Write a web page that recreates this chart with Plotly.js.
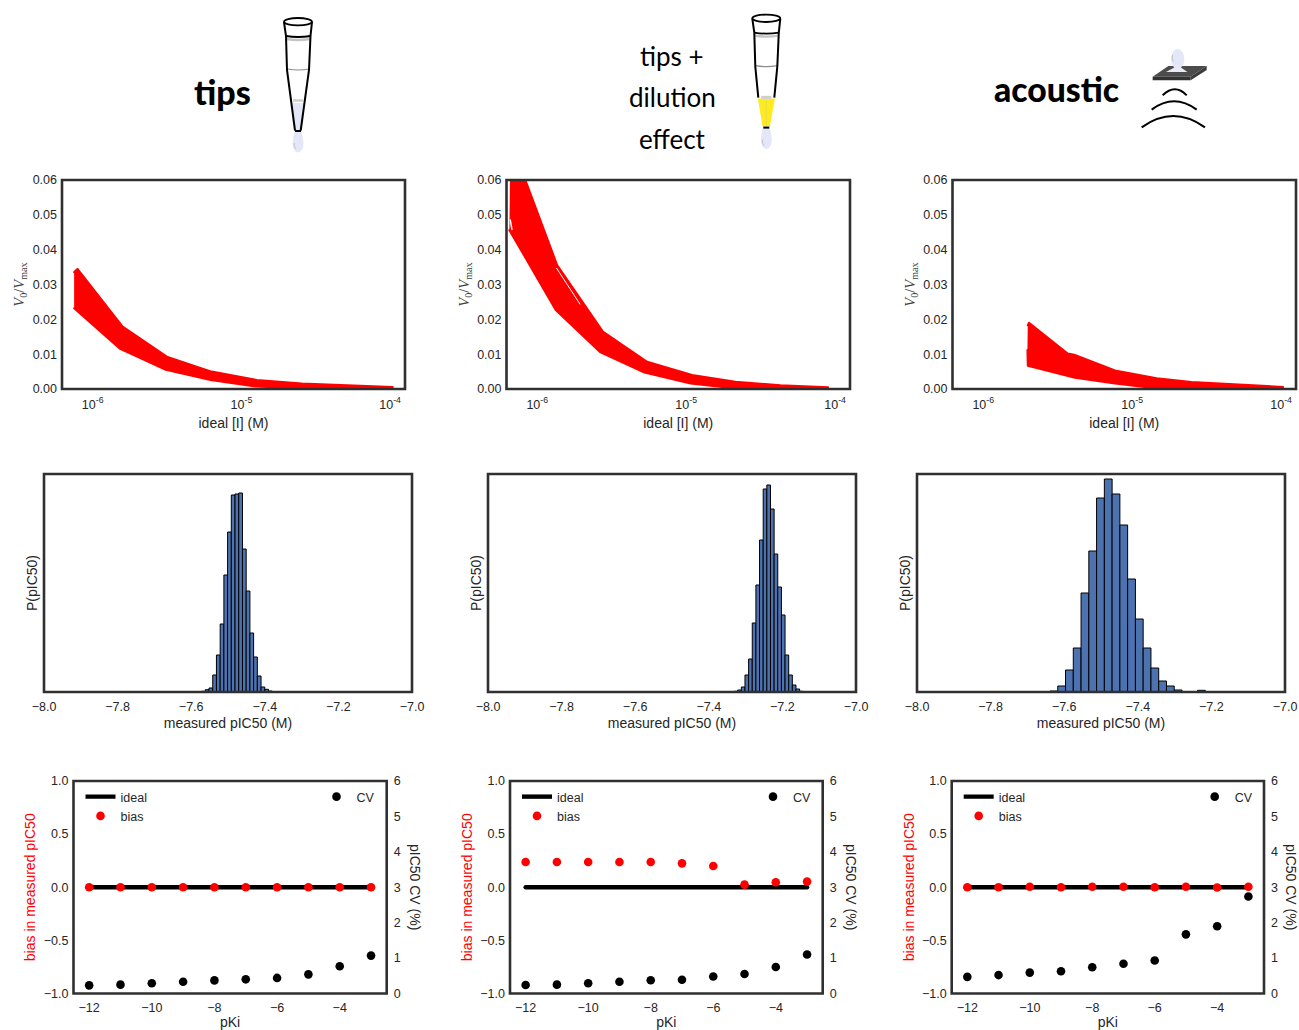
<!DOCTYPE html>
<html><head><meta charset="utf-8">
<script src="https://cdn.plot.ly/plotly-3.0.1.min.js"></script>
<style>html,body{margin:0;padding:0;background:#fff}
.scatterlayer .js-line{stroke-linecap:round;stroke-linejoin:round}</style>
</head><body><div id="chart" style="width:1299px;height:1030px"></div>
<script>
// --- Row 1: dose-response envelopes (V0/Vmax against ideal [I])
const tipsUpperConc=[7.5e-7,7.9e-7,1.59e-6,3.15e-6,6.3e-6,1.27e-5,2.55e-5,5.1e-5,1.04e-4];
const tipsUpperV=[0.0335,0.0345,0.0179,0.0093,0.0050,0.0026,0.0016,0.0011,0.0006];
const tipsLowerConc=[7.5e-7,1.53e-6,3.1e-6,6.2e-6,1.24e-5,2.5e-5,1.04e-4];
const tipsLowerV=[0.0232,0.0115,0.0055,0.0026,0.0007,0.0002,0.0001];
const dilUpperConc=[6.6e-7,1.36e-6,2.76e-6,5.47e-6,1.096e-5,2.14e-5,4.3e-5,8.97e-5];
const dilUpperV=[0.0715,0.0356,0.01646,0.0078,0.0040,0.0021,0.0011,0.0005];
const dilLowerConc=[6.5e-7,1.33e-6,2.66e-6,5.25e-6,1.07e-5,2.09e-5,8.97e-5];
const dilLowerV=[0.0456,0.0227,0.0105,0.0047,0.0016,0.0002,0.0001];
const dilGapConc=[1.35e-6,1.934e-6];
const dilGapV=[0.03464,0.0244];
const dilNotchConc=[6.59e-7,6.76e-7];
const dilNotchV=[0.0485,0.0458];
const acUpperConc=[1.99e-6,2.03e-6,3.69e-6,4.08e-6,7.67e-6,1.46e-5,2.5e-5,5.04e-5,1.03e-4];
const acUpperV=[0.0183,0.0190,0.0102,0.00986,0.0053,0.0031,0.0020,0.0013,0.0006];
const acLowerConc=[1.98e-6,1.99e-6,4.13e-6,7.67e-6,1.43e-5,1.03e-4];
const acLowerV=[0.0112,0.0067,0.00325,0.0016,0.0002,0.0001];
const concTicks=[1e-6,1e-5,1e-4];
const concTickText=['10<sup>-6</sup>','10<sup>-5</sup>','10<sup>-4</sup>'];
// --- Row 2: histograms of measured pIC50 (relative heights)
const tipsHist=[0.7,2.3,4,17,37,68,117,160,197,198,199,143,101,59,35,16,5,2.7,1];
const dilHist=[0.7,2,5,17,33,69,107,152,203,207,183,138,105,77,37,17,7,3,0.7];
const acHist=[1,6,22,44,99,141,194,213,198,167,113,73,44,24,11,6,2,0.5,0.3,1.7];
// --- Row 3: bias and CV against pKi
const pKi=[-12,-11,-10,-9,-8,-7,-6,-5,-4,-3];
const idealBias=[0,0,0,0,0,0,0,0,0,0];
const tipsBias=[0,0,0,0,0,0,0,0,0,0];
const tipsCV=[0.23,0.25,0.29,0.33,0.37,0.40,0.44,0.54,0.77,1.07];
const dilBias=[0.2375,0.2375,0.2375,0.2375,0.2375,0.225,0.2,0.025,0.047,0.053];
const dilCV=[0.24,0.25,0.29,0.33,0.375,0.39,0.48,0.55,0.75,1.1];
const acBias=[0,0,0.005,0,0.005,0.005,0,0.005,-0.003,0.005];
const acCV=[0.47,0.52,0.59,0.63,0.74,0.84,0.93,1.67,1.9,2.74];
const xTicksRow2=[-8,-7.8,-7.6,-7.4,-7.2,-7];

const W=1299,H=1030,INK='#262626',SPINE='#303030',FONT='"Liberation Sans",Arial,sans-serif';
const fx=p=>p/W, fy=p=>1-p/H;
const domX=(a,b)=>[fx(a),fx(b)];
const domY=(bottom,top)=>[fy(bottom),fy(top)];
const base={showgrid:false,zeroline:false,showline:false,ticks:'',ticklabelstandoff:4,tickfont:{family:FONT,size:12.5,color:INK}};
const ttl=(text,standoff,color)=>({text,standoff,font:{family:FONT,size:14,color:color||INK}});
const layout={width:W,height:H,margin:{l:0,r:0,t:0,b:0,pad:0},paper_bgcolor:'#fff',plot_bgcolor:'#fff',bargap:0,barmode:'overlay',hovermode:false,showlegend:true,shapes:[],annotations:[]};
const traces=[];
const spine=(sx)=>layout.shapes.push({type:'rect',xref:'x'+sx+' domain',yref:'y'+sx+' domain',x0:0,x1:1,y0:0,y1:1,line:{color:SPINE,width:2.6},fillcolor:'rgba(0,0,0,0)',layer:'above'});

const row1=[[tipsUpperConc,tipsUpperV,tipsLowerConc,tipsLowerV,62,405],[dilUpperConc,dilUpperV,dilLowerConc,dilLowerV,506.5,850],[acUpperConc,acUpperV,acLowerConc,acLowerV,952.5,1296]];
row1.forEach((r,i)=>{
  const n=i+1, sx=n==1?'':n, ln='axis'+sx;
  layout['x'+ln]={...base,type:'log',range:[-6.2065,-3.9],tickvals:concTicks,ticktext:concTickText,ticklabelstandoff:6,domain:domX(r[4],r[5]),anchor:'y'+sx,title:ttl('ideal [I] (M)',7)};
  layout['y'+ln]={...base,ticklabelstandoff:4,range:[0,0.06],dtick:0.01,tickformat:'.2f',domain:domY(389,180),anchor:'x'+sx,
    title:{text:'<i>V</i><sub>0</sub>/<i>V</i><sub>max</sub>',standoff:4,font:{family:'"Liberation Serif",serif',size:14.5,color:'#3a3a3a'}}};
  traces.push({type:'scatter',mode:'lines',x:r[0].concat(r[2].slice().reverse()),y:r[1].concat(r[3].slice().reverse()),fill:'toself',fillcolor:'#ff0000',line:{color:'#ff0000',width:2},xaxis:'x'+sx,yaxis:'y'+sx,showlegend:false});
  spine(sx);
});
[[dilGapConc,dilGapV,1],[dilNotchConc,dilNotchV,1.5]].forEach(g=>traces.push({type:'scatter',mode:'lines',x:g[0],y:g[1],line:{color:'#fff',width:g[2]},xaxis:'x2',yaxis:'y2',showlegend:false}));

const row2=[[tipsHist,-7.5617-0.0101,0.0101,44,412],[dilHist,-7.3215-0.0099,0.0099,488,856],[acHist,-7.6386,0.0211,917,1285]];
row2.forEach((r,i)=>{
  const n=i+4;
  layout['xaxis'+n]={...base,ticklabelstandoff:5,range:[-8,-7],tickvals:xTicksRow2,tickformat:'.1f',domain:domX(r[3],r[4]),anchor:'y'+n,title:ttl('measured pIC50 (M)',5)};
  layout['yaxis'+n]={...base,range:[0,218],showticklabels:false,domain:domY(692,474),anchor:'x'+n,title:ttl('P(pIC50)',2)};
  traces.push({type:'bar',x0:r[1]+r[2]/2,dx:r[2],y:r[0],marker:{color:'#4c72b0',line:{color:'#000',width:1}},xaxis:'x'+n,yaxis:'y'+n,showlegend:false});
  spine(n);
});

const row3=[[tipsBias,tipsCV,73.5,386.7,415],[dilBias,dilCV,510,822.7,851],[acBias,acCV,951.7,1264,1291]];
row3.forEach((r,i)=>{
  const n=i+7, r2=i+10, L=i==0?'legend':'legend'+(2*i+1), R='legend'+(2*i+2);
  layout['xaxis'+n]={...base,ticklabelstandoff:5,range:[-12.5,-2.5],tick0:-12,dtick:2,domain:domX(r[2],r[3]),anchor:'y'+n,title:ttl('pKi',6)};
  layout['yaxis'+n]={...base,ticklabelstandoff:4,range:[-1,1],dtick:0.5,tickformat:'.1f',domain:domY(993.5,781),anchor:'x'+n,title:ttl('bias in measured pIC50',4,'#ff0000')};
  layout['yaxis'+r2]={...base,ticklabelstandoff:6,range:[0,6],dtick:1,side:'right',overlaying:'y'+n,anchor:'x'+n};
  layout.annotations.push({xref:'paper',yref:'paper',x:fx(r[4]),y:fy(887),xanchor:'center',yanchor:'middle',textangle:90,showarrow:false,text:'pIC50 CV (%)',font:{family:FONT,size:14,color:INK}});
  traces.push({type:'scatter',mode:'lines',name:'ideal',x:pKi,y:idealBias,line:{color:'#000',width:4.4},xaxis:'x'+n,yaxis:'y'+n,legend:L});
  traces.push({type:'scatter',mode:'markers',name:'bias',x:pKi,y:r[0],marker:{color:'#ff0000',size:8.6},xaxis:'x'+n,yaxis:'y'+n,legend:L});
  traces.push({type:'scatter',mode:'markers',name:'CV',x:pKi,y:r[1],marker:{color:'#000',size:8.6},xaxis:'x'+n,yaxis:'y'+r2,legend:R});
  const lg={bgcolor:'rgba(0,0,0,0)',borderwidth:0,xanchor:'left',yanchor:'top',itemwidth:30,font:{family:FONT,size:12.5,color:INK}};
  layout[L]={...lg,x:fx(r[2]+7),y:fy(782)};
  layout[R]={...lg,x:fx(r[2]+243),y:fy(782)};
  spine(n);
});

// --- Headings
const head=(text,cx,cy,size,weight)=>layout.annotations.push({xref:'paper',yref:'paper',x:fx(cx),y:fy(cy),xanchor:'center',yanchor:'middle',showarrow:false,text,font:{family:'Lato,sans-serif',size,weight,color:'#000'}});
head('tips',222,91,34,900);
head('tips +',672,56,26,400);
head('dilution',672,97,26,400);
head('effect',672,139,26,400);
head('acoustic',1056,89,33.7,900);

// --- Pipette tip and acoustic icons (decoration, in page pixels)
const pt=(x,y)=>fx(x)+','+fy(y);
const poly=(pts,close)=>'M'+pts.map(p=>pt(p[0],p[1])).join(' L')+(close?' Z':'');
const quad=(a,c,b)=>'M'+pt(a[0],a[1])+' Q'+pt(c[0],c[1])+' '+pt(b[0],b[1]);
const add=(path,o)=>layout.shapes.push({type:'path',xref:'paper',yref:'paper',path,line:{color:o.lc||'rgba(0,0,0,0)',width:o.lw||0},fillcolor:o.fc||'rgba(0,0,0,0)',layer:'above'});
const oval=(cx,cy,rx,ry,o)=>layout.shapes.push({type:'circle',xref:'paper',yref:'paper',x0:fx(cx-rx),x1:fx(cx+rx),y0:fy(cy+ry),y1:fy(cy-ry),line:{color:o.lc||'rgba(0,0,0,0)',width:o.lw||0},fillcolor:o.fc||'rgba(0,0,0,0)',layer:'above'});
function tip(dx,dy,yellow){
  const q=(x,y)=>[dx+x,dy+y];
  const LAV='#e3e7f8';
  add(poly([q(292.5,103),q(303,103),q(300.5,131),q(295,131)],true),{fc:LAV});
  oval(dx+298,dy+143,5.5,9.5,{fc:LAV});
  add(poly([q(294.5,131),q(301,131),q(303,138),q(293,138)],true),{fc:LAV});
  add(quad(q(294.5,143),q(293,146),q(296,149)),{lc:'#b9b9b9',lw:0.8});
  add(quad(q(286.5,39),q(298,41),q(310,39)),{lc:'#c4c4c4',lw:2.4});
  add(quad(q(287.5,69),q(298,71),q(309,69)),{lc:'#8c8c8c',lw:1.2});
  add(poly([q(293,100.5),q(303,100.5)]),{lc:'#cfcfcf',lw:2.5});
  if(yellow){
    add(poly([q(289.6,102),q(306.6,102),q(301.6,130),q(294.3,130)],true),{fc:'#fdea20'});
    add(poly([q(293,101),q(303,101)]),{lc:'#cfcfcf',lw:2.5});
    add(poly([q(298,104),q(298,128)]),{lc:'#e3d850',lw:0.7});
    add(poly([q(284,22),q(286,36),q(287,70),q(290,101)]),{lc:'#000',lw:2});
    add(poly([q(312,22),q(310.5,36),q(309,70),q(306,101)]),{lc:'#000',lw:2});
  }else{
    add(poly([q(284,22),q(286,36),q(287,70),q(295,130.5)]),{lc:'#000',lw:2});
    add(poly([q(312,22),q(310.5,36),q(309,70),q(300.7,130.5)]),{lc:'#000',lw:2});
  }
  add(poly([q(295,131),q(301,131)]),{lc:'#000',lw:2});
  add(quad(q(286,36),q(298,38),q(310.5,36)),{lc:'#000',lw:1.8});
  oval(dx+298,dy+21.7,14,3.7,{lc:'#000',lw:1.8,fc:'#fff'});
}
tip(0,0,false);
tip(468.3,-3.4,true);
// acoustic source
const ax=x=>1130+x/3, ay=y=>40+y/3;
const zp=(x,y)=>[ax(x),ay(y)];
add(poly([zp(68,110),zp(115,78),zp(230,78),zp(182,110)],true),{fc:'#4c4c4c'});
add(poly([zp(68,110),zp(182,110),zp(182,121),zp(68,121)],true),{fc:'#333333'});
add(poly([zp(182,110),zp(230,78),zp(230,90),zp(182,121)],true),{fc:'#3b3b3b'});
add(poly([zp(134,82),zp(152,82),zp(172,96),zp(108,96)],true),{fc:'#e9ebf4'});
oval(ax(143),ay(57),6.7,10,{fc:'#e3e7f8'});
add(poly([zp(134,78),zp(152,78),zp(152,88),zp(134,88)],true),{fc:'#e9ebf4'});
add(quad(zp(128,45),zp(124,55),zp(130,64)),{lc:'#b9b9b9',lw:0.8});
add(quad(zp(98,166),zp(135,130),zp(170,166)),{lc:'#000',lw:2});
add(quad(zp(65,209),zp(132,159),zp(200,209)),{lc:'#000',lw:2});
add(quad(zp(35,262),zp(130,194),zp(225,262)),{lc:'#000',lw:2});

Plotly.newPlot('chart',traces,layout,{displayModeBar:false,staticPlot:true});
</script></body></html>
